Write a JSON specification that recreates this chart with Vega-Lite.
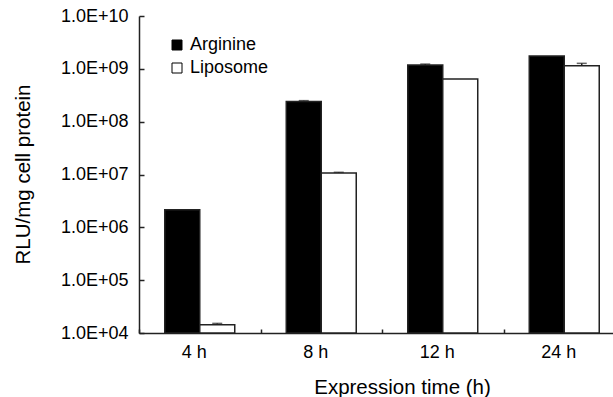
{
  "$schema": "https://vega.github.io/schema/vega-lite/v6.json",
  "width": 486,
  "height": 317,
  "autosize": {"type": "none"},
  "padding": {"left": 139, "top": 16, "right": 0, "bottom": 64},
  "background": "white",
  "config": {
    "view": {"stroke": null},
    "font": "Liberation Sans",
    "axis": {
      "domainColor": "#222",
      "domainWidth": 1.5,
      "tickColor": "#222",
      "tickWidth": 1.5,
      "labelFont": "Liberation Sans",
      "labelFontSize": 18,
      "labelColor": "#000",
      "titleFont": "Liberation Sans",
      "titleFontSize": 20.5,
      "titleFontWeight": "normal",
      "titleColor": "#000",
      "grid": false
    }
  },
  "data": {
    "values": [
      {"time": "4 h", "group": "Arginine", "value": 2150000, "upper": null},
      {"time": "4 h", "group": "Liposome", "value": 14300, "upper": 15200},
      {"time": "8 h", "group": "Arginine", "value": 240000000, "upper": 250000000},
      {"time": "8 h", "group": "Liposome", "value": 10700000, "upper": 11000000},
      {"time": "12 h", "group": "Arginine", "value": 1180000000, "upper": 1230000000},
      {"time": "12 h", "group": "Liposome", "value": 640000000, "upper": null},
      {"time": "24 h", "group": "Arginine", "value": 1740000000, "upper": null},
      {"time": "24 h", "group": "Liposome", "value": 1150000000, "upper": 1270000000}
    ]
  },
  "encoding": {
    "x": {
      "field": "time",
      "type": "nominal",
      "sort": ["4 h", "8 h", "12 h", "24 h"],
      "scale": {"paddingInner": 0, "paddingOuter": 0},
      "axis": {
        "title": "Expression time (h)",
        "labelAngle": 0,
        "tickBand": "extent",
        "labelOffset": -6,
        "tickSize": -4,
        "labelPadding": 14,
        "titleX": 263,
        "titleY": 44,
        "titleBaseline": "top"
      }
    },
    "xOffset": {
      "field": "group",
      "sort": ["Arginine", "Liposome"],
      "scale": {"paddingOuter": 0.736, "paddingInner": 0}
    }
  },
  "layer": [
    {
      "mark": {"type": "bar", "stroke": "#222", "strokeWidth": 1.5},
      "encoding": {
        "y": {
          "field": "value",
          "type": "quantitative",
          "scale": {"type": "log", "domain": [10000, 10000000000], "nice": false},
          "axis": {
            "title": "RLU/mg cell protein",
            "values": [10000, 100000, 1000000, 10000000, 100000000, 1000000000, 10000000000],
            "labelExpr": "'1.0E+' + pad(format(log(datum.value)/LN10, '.0f'), 2, '0', 'left')",
            "tickSize": -5,
            "labelPadding": 16,
            "titleX": -116,
            "titleY": 158,
            "titleAlign": "center",
            "titleBaseline": "middle"
          }
        },
        "y2": {"datum": 10000},
        "fill": {
          "field": "group",
          "type": "nominal",
          "scale": {"domain": ["Arginine", "Liposome"], "range": ["#000000", "#ffffff"]},
          "legend": {
            "title": null,
            "orient": "none",
            "legendX": 29,
            "legendY": 20,
            "padding": 0,
            "symbolType": "square",
            "symbolSize": 100,
            "symbolStrokeColor": "#000",
            "symbolStrokeWidth": 1,
            "labelFont": "Liberation Sans",
            "labelFontSize": 18,
            "labelColor": "#000",
            "labelOffset": 4,
            "rowPadding": 5
          }
        }
      }
    },
    {
      "transform": [{"filter": "datum.upper != null"}],
      "mark": {"type": "rule", "color": "#222", "strokeWidth": 1.5},
      "encoding": {
        "y": {"field": "value", "type": "quantitative"},
        "y2": {"field": "upper"}
      }
    },
    {
      "transform": [{"filter": "datum.upper != null"}],
      "mark": {"type": "tick", "color": "#222", "thickness": 1.5, "size": 10},
      "encoding": {
        "y": {"field": "upper", "type": "quantitative"}
      }
    }
  ]
}
